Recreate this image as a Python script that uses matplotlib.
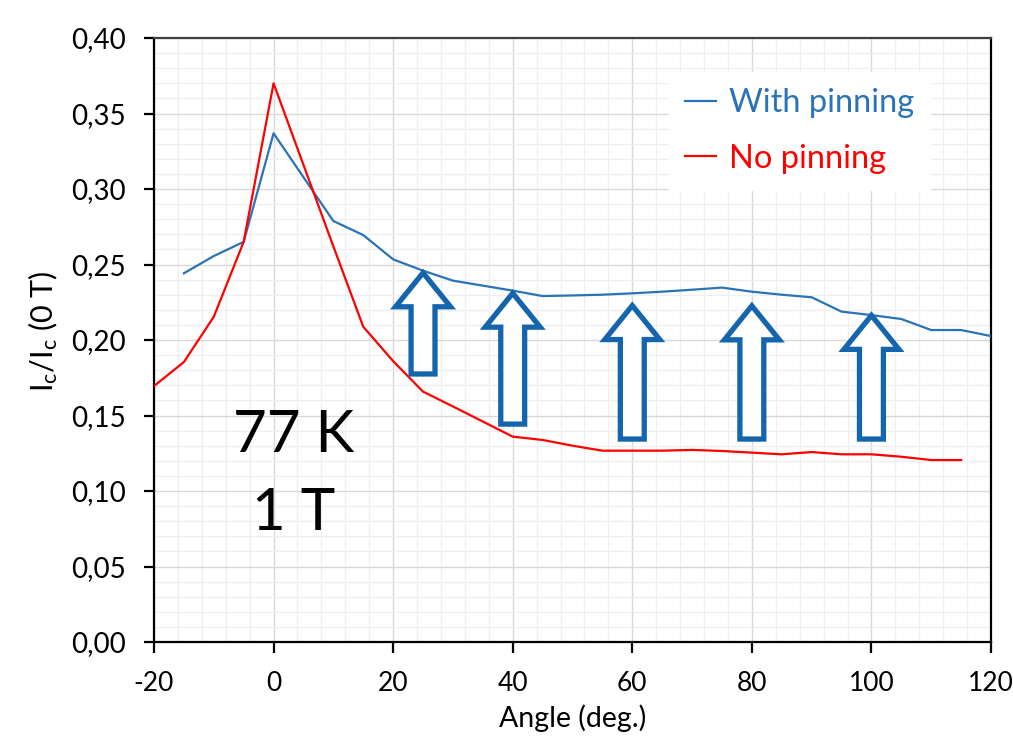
import matplotlib
matplotlib.use("Agg")
import matplotlib.pyplot as plt
from matplotlib.patches import Polygon
from matplotlib.ticker import MultipleLocator, FuncFormatter

plt.rcParams['font.family'] = ['Lato', 'DejaVu Sans']
plt.rcParams['mathtext.fontset'] = 'custom'
plt.rcParams['mathtext.rm'] = 'Lato'
plt.rcParams['mathtext.it'] = 'Lato:italic'

# ---- data ----
angle_with = [-15, -10, -5, 0, 5, 10, 15, 20, 25, 30, 35, 40, 45, 50, 55, 60, 65, 70,
              75, 80, 85, 90, 95, 100, 105, 110, 115, 120]
ic_with = [0.2442, 0.2556, 0.2650, 0.3369, 0.3078, 0.2788, 0.2695, 0.2534, 0.2459, 0.2393,
           0.2360, 0.2327, 0.2291, 0.2295, 0.2300, 0.2309, 0.2320, 0.2333,
           0.2347, 0.2320, 0.2300, 0.2283, 0.2188, 0.2165, 0.2139, 0.2066, 0.2066, 0.2026]

angle_no = [-20, -15, -10, -5, 0, 5, 10, 15, 20, 25, 30, 35, 40, 45, 50, 55, 60, 65, 70,
            75, 80, 85, 90, 95, 100, 105, 110, 115]
ic_no = [0.1695, 0.1854, 0.2154, 0.2650, 0.3700, 0.3160, 0.2620, 0.2088, 0.1860, 0.1658,
         0.1560, 0.1460, 0.1360, 0.1338, 0.1300, 0.1267, 0.1267, 0.1267, 0.1272,
         0.1265, 0.1254, 0.1243, 0.1258, 0.1243, 0.1243, 0.1227, 0.1205, 0.1205]

# annotation arrows: x-centre, bottom, tip
arrow_x = [25, 40, 60, 80, 100]
arrow_bottom = [0.1775, 0.1443, 0.1344, 0.1344, 0.1344]
arrow_tip = [0.2445, 0.2310, 0.2228, 0.2226, 0.2163]

x_ticks = [-20, 0, 20, 40, 60, 80, 100, 120]
y_ticks = [0.00, 0.05, 0.10, 0.15, 0.20, 0.25, 0.30, 0.35, 0.40]

BLUE = '#2a73b8'
ARROW_BLUE = '#1565ae'
RED = '#ff0000'

fig = plt.figure(figsize=(10.13, 7.37), dpi=100)
ax = fig.add_axes([154 / 1013, 1 - 642 / 737, (991 - 154) / 1013, (642 - 38) / 737])

ax.set_xlim(-20, 120)
ax.set_ylim(0, 0.40)
ax.xaxis.set_minor_locator(MultipleLocator(4))
ax.yaxis.set_minor_locator(MultipleLocator(0.01))
ax.set_xticks(x_ticks)
ax.set_yticks(y_ticks)
ax.yaxis.set_major_formatter(FuncFormatter(lambda v, p: f"{v:.2f}".replace('.', ',')))
ax.xaxis.set_major_formatter(FuncFormatter(lambda v, p: f"{v:.0f}"))

ax.grid(which='major', color='#d9d9d9', lw=1.0, zorder=0)
ax.grid(which='minor', color='#efefef', lw=0.9, zorder=0)
ax.set_axisbelow(True)

for s in ax.spines.values():
    s.set_linewidth(1.6)
    s.set_color('black')
ax.spines['top'].set_color('#404040')

ax.tick_params(axis='y', which='major', direction='out', length=7, width=1.6,
               labelsize=20, pad=13)
ax.tick_params(axis='x', which='major', direction='out', length=8, width=1.6,
               labelsize=19, pad=13)
ax.tick_params(which='minor', length=0)

ax.plot(angle_with, ic_with, color=BLUE, lw=1.6, label='With pinning', zorder=3)
ax.plot(angle_no, ic_no, color=RED, lw=1.6, label='No pinning', zorder=3)

# outlined block arrows
head_half = 4.6
shaft_half = 2.0
head_len = 0.0225
for xc, yb, yt in zip(arrow_x, arrow_bottom, arrow_tip):
    yh = yt - head_len
    pts = [(xc - shaft_half, yb), (xc + shaft_half, yb), (xc + shaft_half, yh),
           (xc + head_half, yh), (xc, yt), (xc - head_half, yh), (xc - shaft_half, yh)]
    ax.add_patch(Polygon(pts, closed=True, facecolor='white', edgecolor=ARROW_BLUE,
                         lw=3.8, joinstyle='miter', zorder=4))

ax.text(3.3, 0.1368, '77 K', fontsize=42, ha='center', va='center', color='black')
ax.text(3.3, 0.0854, '1 T', fontsize=42, ha='center', va='center', color='black')

leg = ax.legend(loc='upper left', bbox_to_anchor=((669 - 154) / 837, (642 - 72) / 604),
                fontsize=23.5, frameon=True, framealpha=1, facecolor='white',
                edgecolor='white', fancybox=False, handlelength=0.95,
                handletextpad=0.38, labelspacing=0.78, borderpad=0.5,
                borderaxespad=0)
for txt, line in zip(leg.get_texts(), leg.get_lines()):
    txt.set_color(line.get_color())
leg.set_zorder(5)

ax.set_xlabel('Angle (deg.)', fontsize=20.5, labelpad=6)
ax.set_ylabel(r'$\mathregular{I_c/I_c}$ (0 T)', fontsize=22)
ax.yaxis.set_label_coords(-0.112, 0.515)

fig.savefig('out.png', dpi=100)
